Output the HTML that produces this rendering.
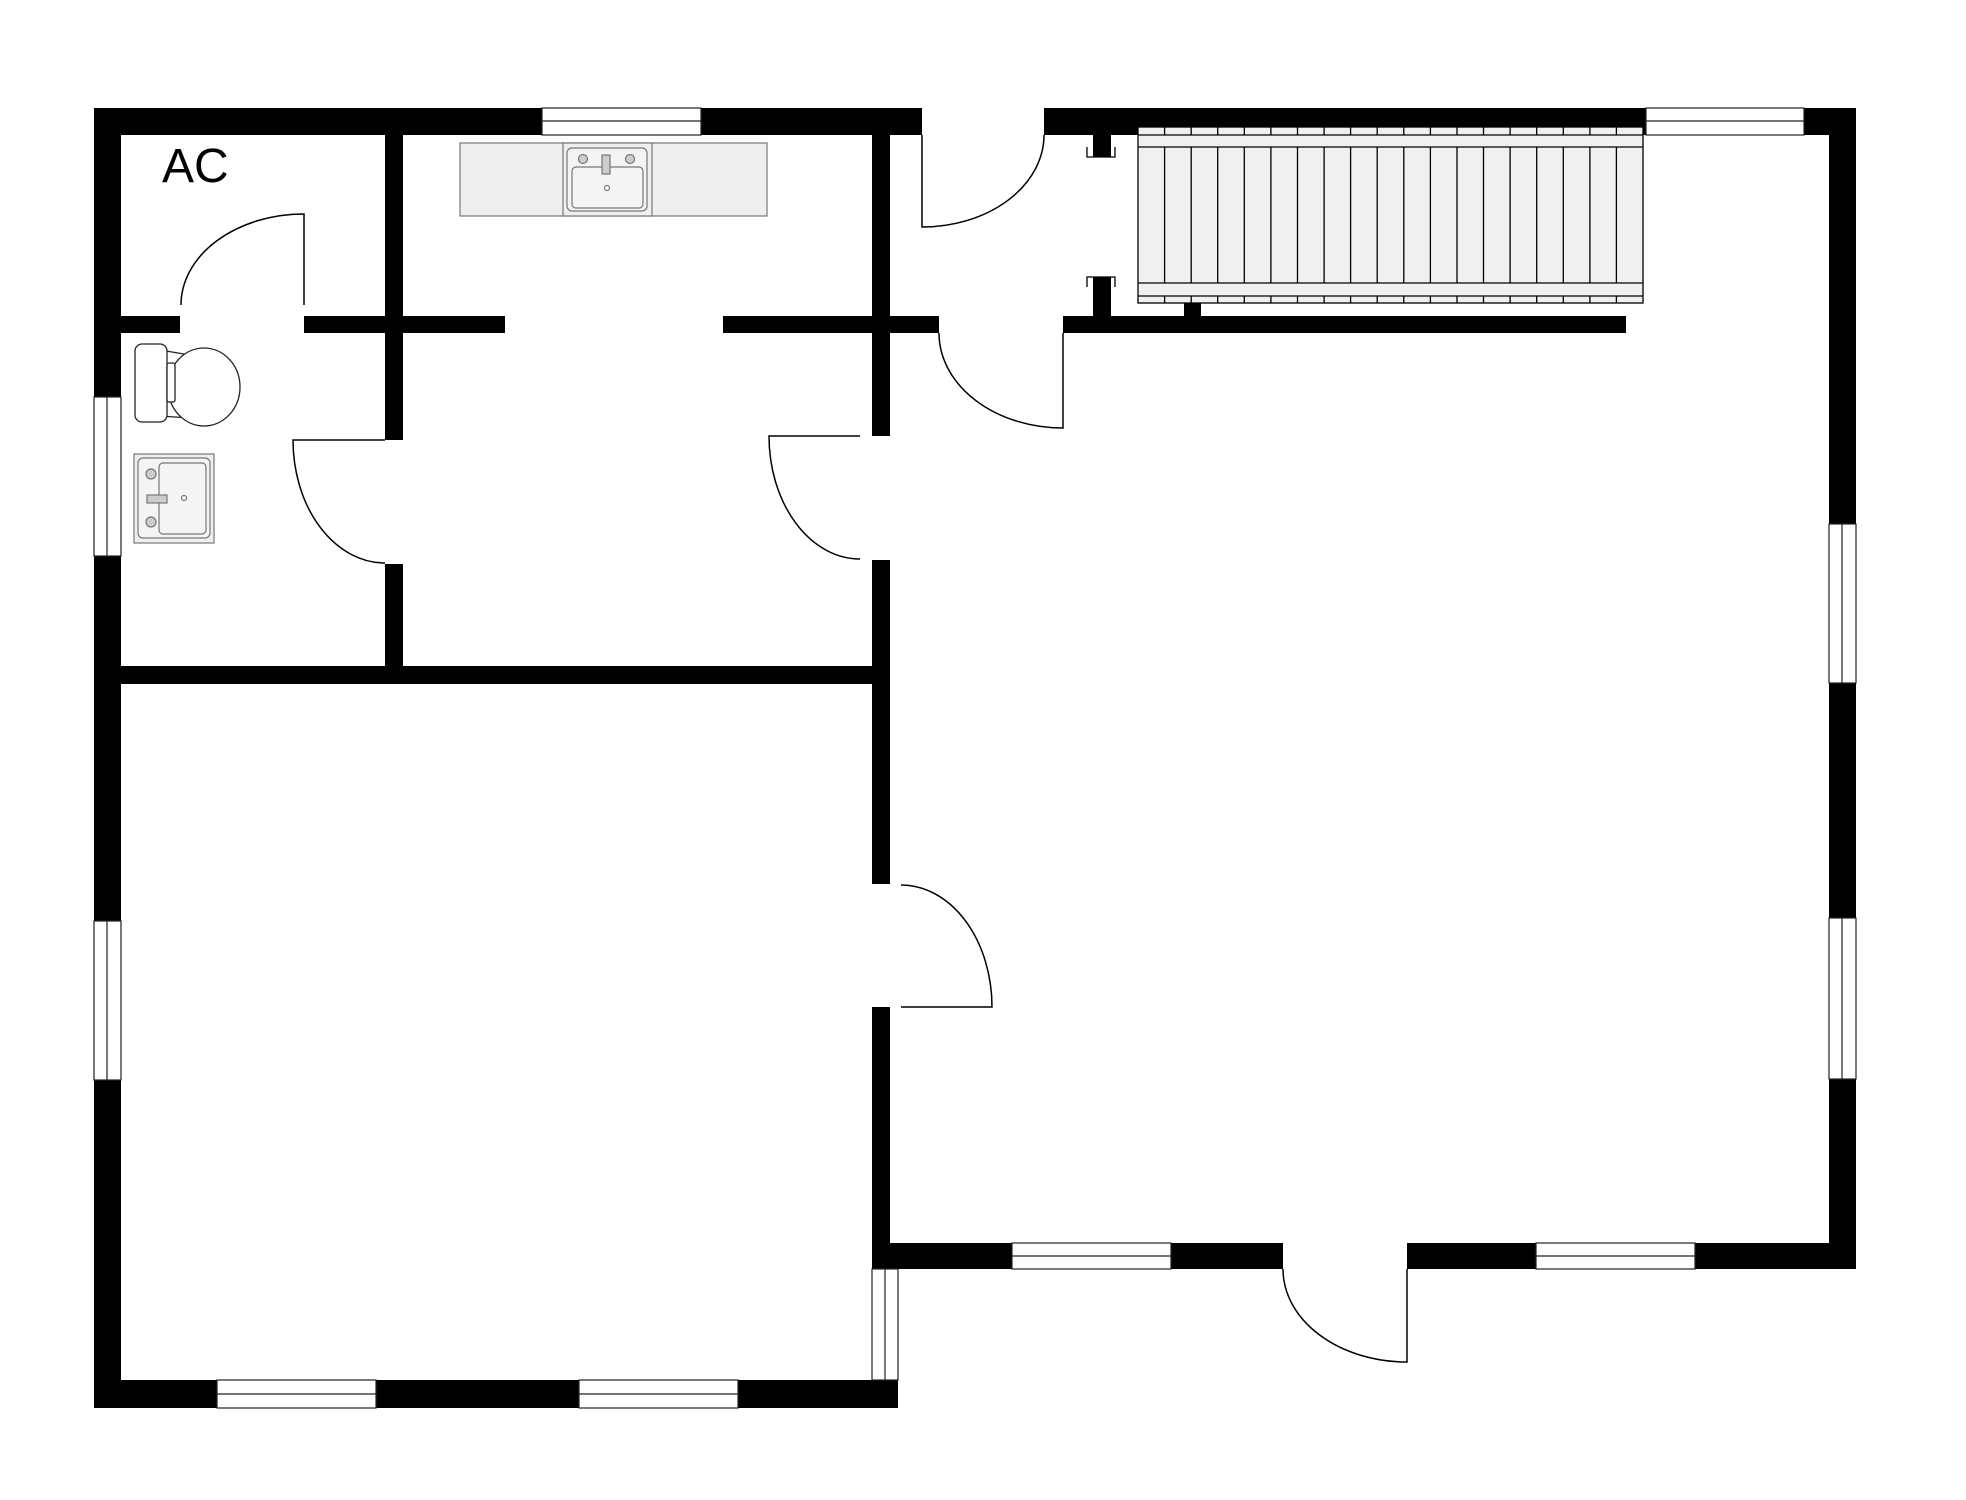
<!DOCTYPE html>
<html><head><meta charset="utf-8"><style>html,body{margin:0;padding:0;background:#fff}svg{display:block}</style></head>
<body>
<svg width="1966" height="1500" viewBox="0 0 1966 1500" xmlns="http://www.w3.org/2000/svg">
<rect width="1966" height="1500" fill="#fff"/>
<g fill="#000">
<!-- outer top -->
<rect x="94" y="108" width="448" height="27"/><rect x="701" y="108" width="221" height="27"/>
<rect x="1044" y="108" width="602" height="27"/><rect x="1804" y="108" width="52" height="27"/>
<!-- right -->
<rect x="1829" y="108" width="27" height="416"/><rect x="1829" y="683" width="27" height="235"/><rect x="1829" y="1079" width="27" height="190"/>
<!-- bottom right -->
<rect x="872" y="1243" width="140" height="26"/><rect x="1171" y="1243" width="112" height="26"/>
<rect x="1407" y="1243" width="129" height="26"/><rect x="1695" y="1243" width="161" height="26"/>
<!-- left -->
<rect x="94" y="108" width="27" height="289"/><rect x="94" y="556" width="27" height="365"/><rect x="94" y="1080" width="27" height="328"/>
<!-- bottom left -->
<rect x="94" y="1380" width="123" height="28"/><rect x="376" y="1380" width="203" height="28"/><rect x="738" y="1380" width="160" height="28"/>
<!-- interior -->
<rect x="385" y="135" width="18" height="305"/><rect x="385" y="564" width="18" height="120"/>
<rect x="872" y="135" width="18" height="301"/><rect x="872" y="560" width="18" height="324"/><rect x="872" y="1007" width="18" height="262"/>
<rect x="121" y="316" width="59" height="17"/><rect x="304" y="316" width="201" height="17"/>
<rect x="723" y="316" width="216" height="17"/><rect x="1063" y="316" width="563" height="17"/>
<rect x="121" y="666" width="769" height="18"/>
<rect x="1093" y="135" width="18" height="22"/><rect x="1093" y="277" width="18" height="39"/><rect x="1184" y="303" width="17" height="13"/>
</g>
<!-- windows -->
<g fill="#fff" stroke="#222" stroke-width="1.2">
<rect x="542" y="108" width="159" height="27"/><line x1="542" y1="121" x2="701" y2="121"/>
<rect x="1646" y="108" width="158" height="27"/><line x1="1646" y1="121" x2="1804" y2="121"/>
<rect x="1829" y="524" width="27" height="159"/><line x1="1842" y1="524" x2="1842" y2="683"/>
<rect x="1829" y="918" width="27" height="161"/><line x1="1842" y1="918" x2="1842" y2="1079"/>
<rect x="1012" y="1243" width="159" height="26"/><line x1="1012" y1="1256" x2="1171" y2="1256"/>
<rect x="1536" y="1243" width="159" height="26"/><line x1="1536" y1="1256" x2="1695" y2="1256"/>
<rect x="94" y="397" width="27" height="159"/><line x1="107" y1="397" x2="107" y2="556"/>
<rect x="94" y="921" width="27" height="159"/><line x1="107" y1="921" x2="107" y2="1080"/>
<rect x="217" y="1380" width="159" height="28"/><line x1="217" y1="1394" x2="376" y2="1394"/>
<rect x="579" y="1380" width="159" height="28"/><line x1="579" y1="1394" x2="738" y2="1394"/>
<rect x="872" y="1269" width="26" height="111"/><line x1="885" y1="1269" x2="885" y2="1380"/>
</g>
<!-- doors -->
<g fill="none" stroke="#000" stroke-width="1.5">
<path d="M304 305 V214 A123 91 0 0 0 181 305"/>
<path d="M385 440 H293 A92 123 0 0 0 385 563"/>
<path d="M860 436 H769 A91 123 0 0 0 860 559"/>
<path d="M922 135 V227 A122 92 0 0 0 1044 135"/>
<path d="M1063 333 V428 A124 95 0 0 1 939 333"/>
<path d="M901 1007 H992 A91 122 0 0 0 901 885"/>
<path d="M1407 1269 V1362 A124 93 0 0 1 1283 1269"/>
</g>
<!-- pillar brackets -->
<g fill="none" stroke="#000" stroke-width="1.3">
<path d="M1087 147 V157 H1115 V147"/>
<path d="M1087 287 V277 H1115 V287"/>
</g>
<!-- stairs -->
<g stroke="#000" stroke-width="1.3">
<rect x="1138" y="127" width="505" height="176" fill="#f0f0f0"/>
<line x1="1138" y1="135" x2="1643" y2="135"/><line x1="1138" y1="147" x2="1643" y2="147"/>
<line x1="1138" y1="283" x2="1643" y2="283"/><line x1="1138" y1="296" x2="1643" y2="296"/>
</g>
<g stroke="#000" stroke-width="1.3" id="tr">
<path d="M1164.6 127V135M1164.6 147V283M1164.6 296V303
M1191.2 127V135M1191.2 147V283M1191.2 296V303
M1217.7 127V135M1217.7 147V283M1217.7 296V303
M1244.3 127V135M1244.3 147V283M1244.3 296V303
M1270.9 127V135M1270.9 147V283M1270.9 296V303
M1297.5 127V135M1297.5 147V283M1297.5 296V303
M1324.1 127V135M1324.1 147V283M1324.1 296V303
M1350.6 127V135M1350.6 147V283M1350.6 296V303
M1377.2 127V135M1377.2 147V283M1377.2 296V303
M1403.8 127V135M1403.8 147V283M1403.8 296V303
M1430.4 127V135M1430.4 147V283M1430.4 296V303
M1457 127V135M1457 147V283M1457 296V303
M1483.5 127V135M1483.5 147V283M1483.5 296V303
M1510.1 127V135M1510.1 147V283M1510.1 296V303
M1536.7 127V135M1536.7 147V283M1536.7 296V303
M1563.3 127V135M1563.3 147V283M1563.3 296V303
M1589.9 127V135M1589.9 147V283M1589.9 296V303
M1616.4 127V135M1616.4 147V283M1616.4 296V303"/>
</g>
<!-- counter -->
<g stroke="#777" stroke-width="1.2">
<rect x="460" y="143" width="307" height="73" fill="#efefef"/>
<rect x="563" y="143" width="89" height="73" fill="#efefef"/>
<rect x="567" y="148" width="80" height="63" rx="5" fill="#f4f4f4"/>
<rect x="572" y="167" width="71" height="41" rx="4" fill="#f4f4f4"/>
<circle cx="583" cy="159" r="4.5" fill="#ccc"/><circle cx="630" cy="159" r="4.5" fill="#ccc"/>
<rect x="602" y="155" width="8" height="19" fill="#ccc"/>
<circle cx="607" cy="188" r="2.5" fill="#fff"/>
</g>
<!-- toilet -->
<g stroke="#222" stroke-width="1.3" fill="#fff">
<path d="M160 350 L190 355 M160 416 L190 418" />
<ellipse cx="204" cy="387" rx="36" ry="39"/>
<rect x="135" y="344" width="32" height="78" rx="7"/>
<rect x="167" y="363" width="8" height="39" rx="2"/>
</g>
<!-- bathroom sink -->
<g stroke="#777" stroke-width="1.2">
<rect x="134" y="454" width="80" height="89" fill="#efefef"/>
<rect x="138" y="458" width="72" height="80" rx="5" fill="#f4f4f4"/>
<rect x="159" y="463" width="47" height="71" rx="4" fill="#f4f4f4"/>
<circle cx="151" cy="474" r="5" fill="#ccc"/><circle cx="151" cy="522" r="5" fill="#ccc"/>
<rect x="147" y="495" width="20" height="8" fill="#ccc"/>
<circle cx="184" cy="498" r="2.5" fill="#fff"/>
</g>
<text x="162" y="182" font-family="Liberation Sans, DejaVu Sans, sans-serif" font-size="48" fill="#000">AC</text>
</svg>
</body></html>
